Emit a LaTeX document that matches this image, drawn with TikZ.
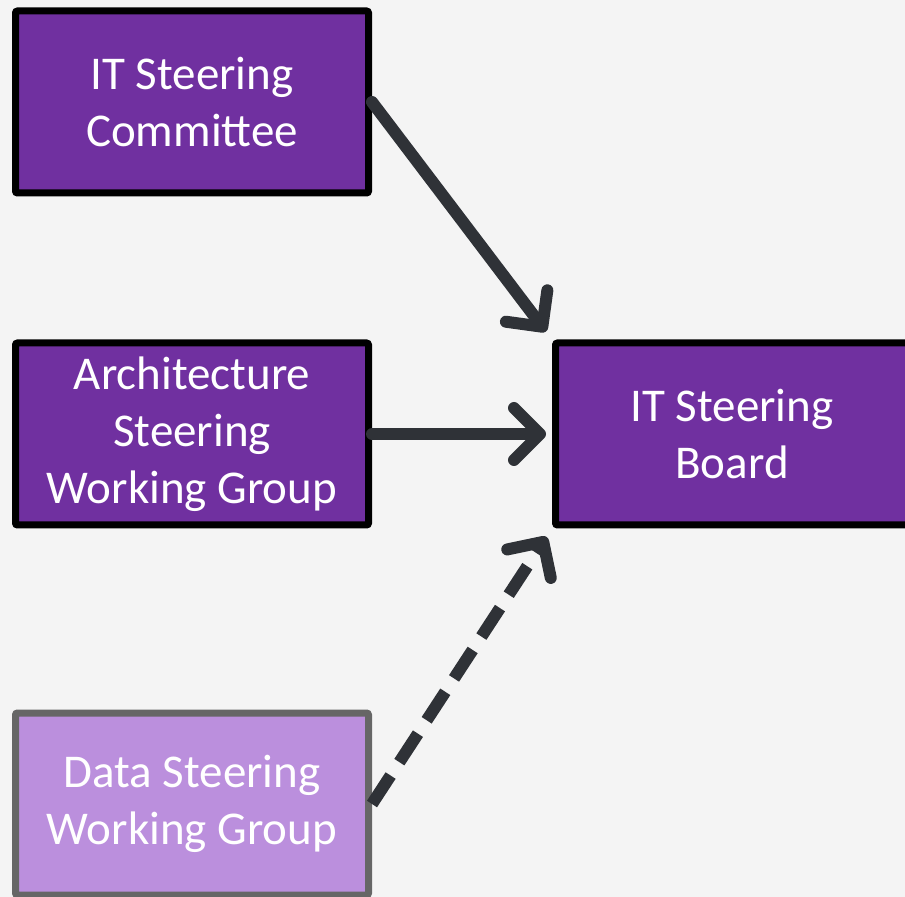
\documentclass[tikz,border=0pt]{standalone}
\usepackage{fontspec}
\setmainfont{Carlito}
\usetikzlibrary{arrows.meta}
\definecolor{boardpurple}{HTML}{7030A0}
\definecolor{lightpurple}{HTML}{BB8FDD}
\definecolor{boxgray}{HTML}{666666}
\definecolor{arrowgray}{HTML}{2F3237}
\definecolor{bggray}{HTML}{F4F4F4}
\begin{document}
\begin{tikzpicture}[x=0.5pt, y=-0.5pt,
    group/.style={draw=black, line width=3.5pt, fill=boardpurple, text=white,
      minimum width=176.5pt, minimum height=91pt, align=center, rounded corners=1pt,
      font=\fontsize{23.5}{28.5}\selectfont, inner sep=0pt},
    feed/.style={arrowgray, line width=6pt, line cap=round,
      -{Straight Barb[length=13pt, width=26pt, line cap=round, line join=round]}}]
    % Background
    \fill[bggray] (0,0) rectangle (905,897);
    \clip (0,0) rectangle (905,897);

    % Boxes
    \node[group] (itcomm) at (192,102) {IT Steering\\Committee};
    \node[group] (archwg) at (192,434) {Architecture\\Steering\\Working Group};
    \node[group, fill=lightpurple, draw=boxgray] (datawg) at (192,804) {Data Steering\\Working Group};
    \node[group] (itboard) at (732,434) {IT Steering\\Board};

    % Arrows into the board
    \draw[feed, shorten >=5pt] (itcomm.east) -- (itboard.north west);
    \draw[feed, shorten >=3pt] (archwg.east) -- (itboard.west);
    \draw[feed, shorten >=5pt, line cap=butt, dash pattern=on 17pt off 8pt] (datawg.east) -- (itboard.south west);
\end{tikzpicture}
\end{document}
